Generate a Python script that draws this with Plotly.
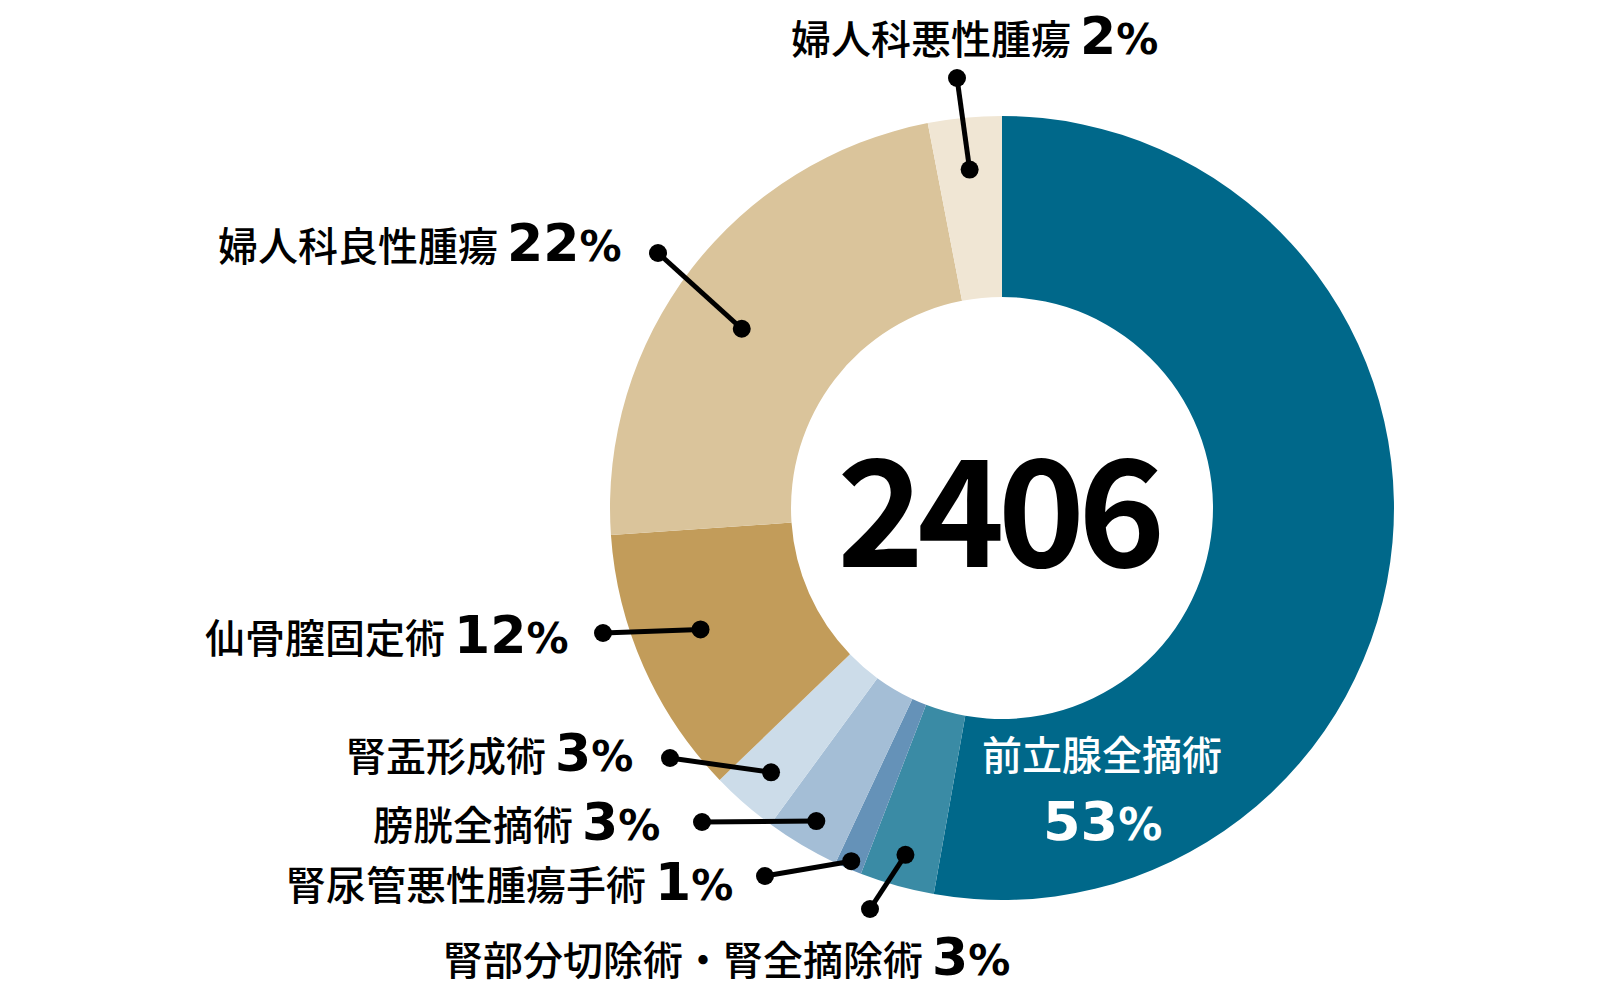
import math
import plotly.graph_objects as go

# ---------------- data ----------------
categories = ["前立腺全摘術", "腎部分切除術・腎全摘除術", "腎尿管悪性腫瘍手術", "膀胱全摘術",
              "腎盂形成術", "仙骨膣固定術", "婦人科良性腫瘍", "婦人科悪性腫瘍"]
slice_values = [1270, 74, 27, 74, 66, 267, 555, 73]
pct_labels = [53, 3, 1, 3, 3, 12, 22, 2]               # printed percentages
total_cases = 2406
colors = ["#00688A", "#3A8BA5", "#6592B8", "#A4BED6", "#CCDCE9", "#C29C5A", "#DAC49B", "#F0E6D4"]

# ---------------- layout constants (pixels) ----------------
W, H = 1600, 1000
CX, CY, R_OUT, R_IN = 1002, 508, 392, 211

# per-label leader layout: (outer dot x, y), inner dot radius, angle nudge (deg), label right x, label centre y
leader_layout = {
    1: ((870, 909), 360, 0, 1012, 957),
    2: ((765, 876), 384, 0, 735, 882),
    3: ((702, 822), 364, 0, 662, 822),
    4: ((670, 758), 351, 0, 635, 753),
    5: ((603, 633), 325, 2, 570, 635),
    6: ((658, 253), 316, -3, 623, 243),
    7: ((957, 78), 340, 0, 1160, 36),
}

def px(x):
    return x / W

def py(y):
    return 1 - y / H

fig = go.Figure()
fig.add_trace(go.Pie(
    labels=categories, values=slice_values, sort=False, direction="clockwise", rotation=0,
    hole=R_IN / R_OUT, marker=dict(colors=colors, line=dict(width=0)),
    textinfo="none", hoverinfo="label+percent", showlegend=False,
    domain=dict(x=[px(CX - R_OUT), px(CX + R_OUT)], y=[py(CY + R_OUT), py(CY - R_OUT)]),
))

tot = sum(slice_values)
cum = 0
mids = []
for v in slice_values:
    mids.append((cum + v / 2) / tot * 360)
    cum += v

shapes = []
annotations = []
DOT = 9
JP = "Noto Sans CJK JP"
NUM = "DejaVu Sans"

def pct_html(p, big=52, small=42):
    return (f"<span style=\"font-family:{NUM};font-weight:bold;font-size:{big}px\">{p}</span>"
            f"<span style=\"font-family:{NUM};font-weight:bold;font-size:{small}px\">%</span>")

def dot(x, y):
    return dict(type="circle", xref="paper", yref="paper",
                x0=px(x - DOT), x1=px(x + DOT), y0=py(y + DOT), y1=py(y - DOT),
                fillcolor="black", line=dict(width=0), layer="above")

for i, (outer, r, nudge, lx, ly) in leader_layout.items():
    th = math.radians(mids[i] + nudge)
    ix = CX + r * math.sin(th)
    iy = CY - r * math.cos(th)
    ox, oy = outer
    shapes.append(dict(type="line", xref="paper", yref="paper",
                       x0=px(ox), y0=py(oy), x1=px(ix), y1=py(iy),
                       line=dict(color="black", width=5), layer="above"))
    shapes.append(dot(ox, oy))
    shapes.append(dot(ix, iy))
    txt = f"{categories[i]} " + pct_html(pct_labels[i])
    annotations.append(dict(x=px(lx), y=py(ly), xref="paper", yref="paper", text=txt,
                            showarrow=False, xanchor="right", yanchor="middle",
                            font=dict(family=JP, size=40, color="black", weight=500)))

# label inside the big slice
annotations.append(dict(x=px(1102), y=py(753), xref="paper", yref="paper", text=categories[0],
                        showarrow=False, xanchor="center", yanchor="middle",
                        font=dict(family=JP, size=40, color="white", weight=500)))
annotations.append(dict(x=px(1102), y=py(821), xref="paper", yref="paper",
                        text=pct_html(pct_labels[0], 54, 44),
                        showarrow=False, xanchor="center", yanchor="middle",
                        font=dict(family=NUM, size=54, color="white")))
# centre total
annotations.append(dict(x=px(998), y=py(502), xref="paper", yref="paper",
                        text=f"<span style=\"letter-spacing:-7px\"><b>{total_cases}</b></span>",
                        showarrow=False, xanchor="center", yanchor="middle",
                        font=dict(family=JP, size=148, color="black")))

fig.update_layout(
    width=W, height=H, margin=dict(l=0, r=0, t=0, b=0),
    paper_bgcolor="white", plot_bgcolor="white",
    shapes=shapes, annotations=annotations,
)
fig.write_html("out.html")
